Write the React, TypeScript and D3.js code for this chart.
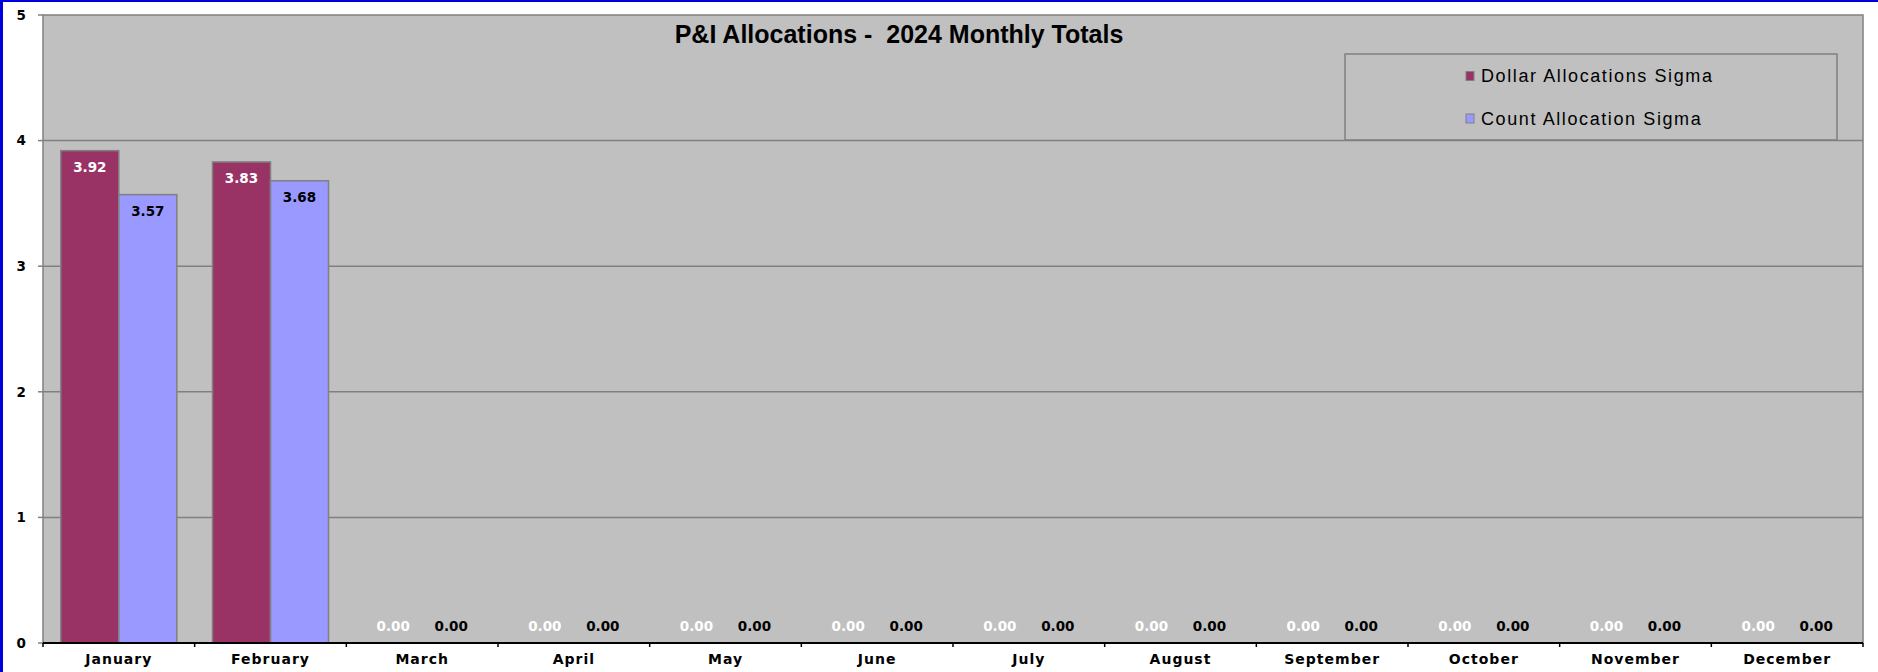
import React from "react";
import * as d3 from "d3";

// chart values
const months = [
  "January", "February", "March", "April", "May", "June",
  "July", "August", "September", "October", "November", "December",
];
const dollarSigma = [3.92, 3.83, 0, 0, 0, 0, 0, 0, 0, 0, 0, 0];
const countSigma = [3.57, 3.68, 0, 0, 0, 0, 0, 0, 0, 0, 0, 0];
const yTicks = [0, 1, 2, 3, 4, 5];
const seriesNames = ["Dollar Allocations Sigma", "Count Allocation Sigma"];
const seriesColors = ["#993366", "#9999FF"];
const labelColors = ["#FFFFFF", "#000000"];

const W = 1878;
const H = 672;
const plot = { left: 43, right: 1863, top: 15, bottom: 643 };
const fmt = d3.format(".2f");

export default function App() {
  const x0 = d3.scaleBand()
    .domain(months)
    .range([plot.left, plot.right])
    .paddingInner(0.235)
    .paddingOuter(0.1175);
  const x1 = d3.scaleBand()
    .domain(seriesNames)
    .range([0, x0.bandwidth()]);
  const y = d3.scaleLinear().domain([0, 5]).range([plot.bottom, plot.top]);

  const series = [dollarSigma, countSigma];

  // category boundaries for the x axis ticks
  const step = x0.step();
  const bounds = d3.range(months.length + 1).map((i) => plot.left + i * step);

  const dataFont = "'DejaVu Sans', Verdana, sans-serif";
  const arial = "'Liberation Sans', Arial, sans-serif";

  return (
    <svg
      width={W}
      height={H}
      style={{ position: "absolute", left: 0, top: 0, display: "block", background: "#fff" }}
    >
      {/* blue frame edges */}
      <rect x={0} y={0} width={3} height={H} fill="#0000DD" />
      <rect x={0} y={0} width={W} height={2} fill="#0000DD" />

      {/* plot area */}
      <rect
        x={plot.left}
        y={plot.top}
        width={plot.right - plot.left}
        height={plot.bottom - plot.top}
        fill="#C0C0C0"
        stroke="#808080"
        strokeWidth={1.5}
      />

      {/* gridlines */}
      {yTicks.filter((t) => t > 0 && t < 5).map((t) => (
        <line key={t} x1={plot.left} x2={plot.right} y1={y(t)} y2={y(t)} stroke="#808080" strokeWidth={1.5} />
      ))}

      {/* y axis */}
      {yTicks.map((t) => (
        <g key={"yt" + t}>
          <line x1={plot.left - 5} x2={plot.left} y1={y(t)} y2={y(t)} stroke="#808080" strokeWidth={1.5} />
          <text
            x={26}
            y={y(t)}
            dy="0.36em"
            textAnchor="end"
            fontFamily={dataFont}
            fontWeight="bold"
            fontSize={13.5}
            fill="#000"
          >
            {t}
          </text>
        </g>
      ))}

      {/* bars */}
      {months.map((m, i) => (
        <g key={m} transform={`translate(${x0(m)},0)`}>
          {series.map((vals, s) => {
            const v = vals[i];
            if (v <= 0) return null;
            return (
              <rect
                key={s}
                x={x1(seriesNames[s])}
                y={y(v)}
                width={x1.bandwidth()}
                height={y(0) - y(v)}
                fill={seriesColors[s]}
                stroke="#808080"
                strokeWidth={1.5}
              />
            );
          })}
        </g>
      ))}

      {/* data labels */}
      {months.map((m, i) => (
        <g key={"lab" + m} transform={`translate(${x0(m)},0)`}>
          {series.map((vals, s) => {
            const v = vals[i];
            const ly = v > 0 ? y(v) + 21 : y(0) - 12;
            return (
              <text
                key={s}
                x={(x1(seriesNames[s]) || 0) + x1.bandwidth() / 2}
                y={ly}
                textAnchor="middle"
                fontFamily={dataFont}
                fontWeight="bold"
                fontSize={13.5}
                fill={labelColors[s]}
              >
                {fmt(v)}
              </text>
            );
          })}
        </g>
      ))}

      {/* x axis */}
      <line x1={plot.left} x2={plot.right} y1={plot.bottom} y2={plot.bottom} stroke="#000" strokeWidth={2} />
      {bounds.map((b, i) => (
        <line key={"xb" + i} x1={b} x2={b} y1={plot.bottom} y2={plot.bottom + 4} stroke="#000" strokeWidth={1.5} />
      ))}
      {months.map((m) => (
        <text
          key={"xl" + m}
          x={(x0(m) || 0) + x0.bandwidth() / 2}
          y={plot.bottom + 21}
          textAnchor="middle"
          fontFamily={dataFont}
          fontWeight="bold"
          fontSize={14}
          letterSpacing={1}
          fill="#000"
        >
          {m}
        </text>
      ))}

      {/* title */}
      <text
        x={899}
        y={43}
        textAnchor="middle"
        fontFamily={arial}
        fontWeight="bold"
        fontSize={25}
        fill="#000"
        style={{ whiteSpace: "pre" }}
      >
        {"P&I Allocations -  2024 Monthly Totals"}
      </text>

      {/* legend */}
      <rect x={1345} y={54} width={492} height={86} fill="none" stroke="#808080" strokeWidth={1.5} />
      {seriesNames.map((name, s) => (
        <g key={name} transform={`translate(1466,${76 + s * 42.5})`}>
          <rect x={0} y={-4.5} width={8} height={9} fill={seriesColors[s]} stroke="#808080" strokeWidth={1} />
          <text
            x={15}
            y={0}
            dy="0.35em"
            fontFamily={arial}
            fontSize={18}
            letterSpacing={1.6}
            fill="#000"
          >
            {name}
          </text>
        </g>
      ))}
    </svg>
  );
}
